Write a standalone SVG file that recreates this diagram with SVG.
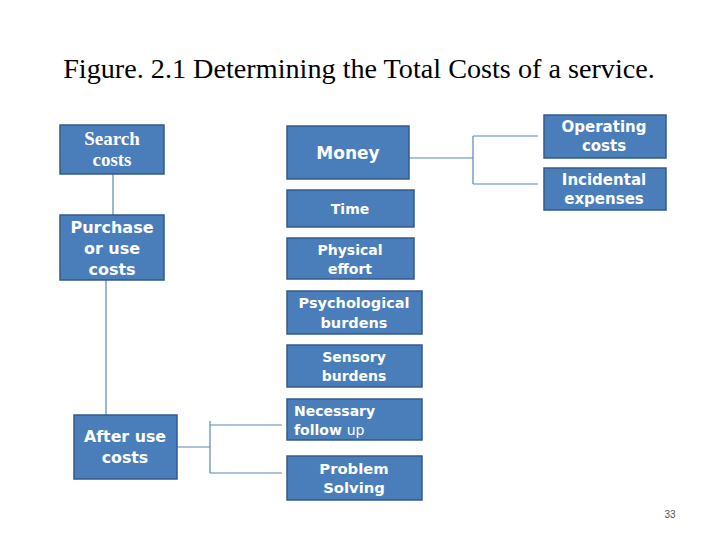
<svg xmlns="http://www.w3.org/2000/svg" width="720" height="540" viewBox="0 0 720 540">
<style>
.box{fill:#4a7ebb;stroke:#36598a;stroke-width:1.5}
.t{font-family:"DejaVu Sans",Verdana,sans-serif;font-weight:bold;font-size:14px;fill:#ffffff;text-anchor:middle}
.s{font-family:"Liberation Serif","Times New Roman",serif;font-weight:bold;font-size:19px;fill:#ffffff;text-anchor:middle}
.ln{fill:none;stroke:#5b87bf;stroke-width:1.2}
</style>
<rect width="720" height="540" fill="#ffffff"/>
<text x="359" y="78" font-family="Liberation Serif,'Times New Roman',serif" font-size="28.2" fill="#000" text-anchor="middle">Figure. 2.1 Determining the Total Costs of a service.</text>
<g id="connectors">
<path class="ln" d="M113 174 V215"/>
<path class="ln" d="M106 280 V415"/>
<path class="ln" d="M177 447 H210 M210 421 V473 M210 425 H282 M210 473 H282"/>
<path class="ln" d="M409 158 H473 M473 136 V184 M473 136 H538 M473 184 H538"/>
</g>
<g id="search"><rect class="box" x="60" y="125" width="104" height="49"/><text class="s" x="112" y="145">Search</text><text class="s" x="112" y="166">costs</text></g>
<g id="purchase"><rect class="box" x="60" y="215" width="104" height="65"/><text class="t" x="112" y="233" style="font-size:16px">Purchase</text><text class="t" x="112" y="254" style="font-size:16px">or use</text><text class="t" x="112" y="275" style="font-size:16px">costs</text></g>
<g id="afteruse"><rect class="box" x="74" y="415" width="103" height="64"/><text class="t" x="125" y="442" style="font-size:15.8px">After use</text><text class="t" x="125" y="463" style="font-size:15.8px">costs</text></g>
<g id="money"><rect class="box" x="287" y="126" width="122" height="53"/><text class="t" x="348" y="159" style="font-size:17px">Money</text></g>
<g id="operating"><rect class="box" x="544" y="115" width="122" height="43"/><text class="t" x="604" y="132" style="font-size:15px">Operating</text><text class="t" x="604" y="151" style="font-size:15px">costs</text></g>
<g id="incidental"><rect class="box" x="544" y="168" width="122" height="42"/><text class="t" x="604" y="185" style="font-size:15px">Incidental</text><text class="t" x="604" y="204" style="font-size:15px">expenses</text></g>
<g id="time"><rect class="box" x="287" y="190" width="127" height="37"/><text class="t" x="350" y="214">Time</text></g>
<g id="physical"><rect class="box" x="287" y="238" width="127" height="41"/><text class="t" x="350" y="255">Physical</text><text class="t" x="350" y="274">effort</text></g>
<g id="psychological"><rect class="box" x="287" y="291" width="135" height="43"/><text class="t" x="354" y="308" style="font-size:14.5px">Psychological</text><text class="t" x="354" y="328" style="font-size:14.5px">burdens</text></g>
<g id="sensory"><rect class="box" x="287" y="345" width="135" height="42"/><text class="t" x="354" y="362">Sensory</text><text class="t" x="354" y="381">burdens</text></g>
<g id="necessary"><rect class="box" x="287" y="399" width="135" height="41"/><text class="t" x="294" y="416" style="text-anchor:start">Necessary</text><text class="t" x="294" y="435" style="text-anchor:start">follow <tspan style="font-weight:normal">up</tspan></text></g>
<g id="problem"><rect class="box" x="287" y="456" width="135" height="44"/><text class="t" x="354" y="474" style="font-size:14.8px">Problem</text><text class="t" x="354" y="493" style="font-size:14.8px">Solving</text></g>
<text x="670" y="518" font-family="Liberation Sans,Arial,sans-serif" font-size="10" fill="#555" text-anchor="middle">33</text>
</svg>
